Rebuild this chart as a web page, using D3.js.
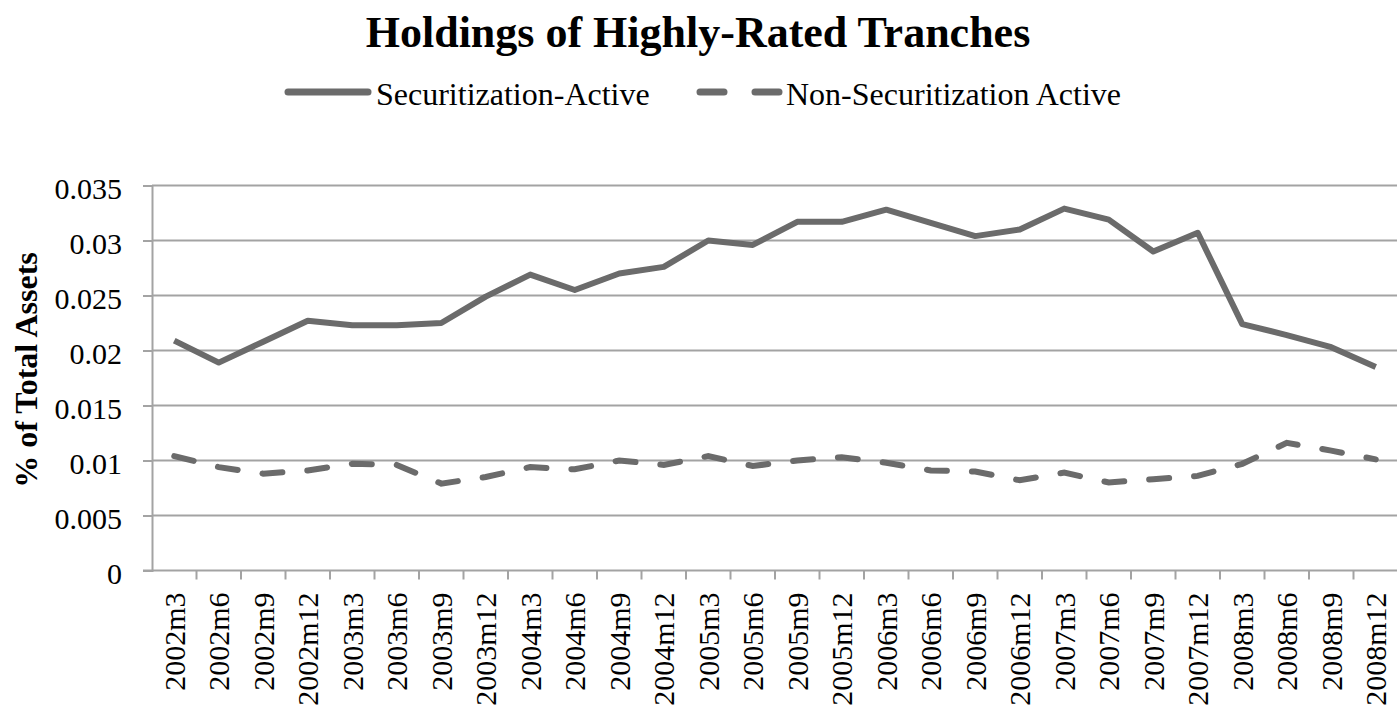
<!DOCTYPE html>
<html>
<head>
<meta charset="utf-8">
<script src="https://cdn.jsdelivr.net/npm/d3@7"></script>
<style>
  body { margin: 0; background: #fff; }
  text { font-family: "Liberation Serif", "Times New Roman", serif; }
</style>
</head>
<body>
<script>
// categories (quarters)
var periods = ["2002m3","2002m6","2002m9","2002m12","2003m3","2003m6","2003m9","2003m12",
               "2004m3","2004m6","2004m9","2004m12","2005m3","2005m6","2005m9","2005m12",
               "2006m3","2006m6","2006m9","2006m12","2007m3","2007m6","2007m9","2007m12",
               "2008m3","2008m6","2008m9","2008m12"];

var securActive = [0.0209, 0.0189, 0.0208, 0.0227, 0.0223, 0.0223, 0.0225, 0.0249,
                   0.0269, 0.0255, 0.0270, 0.0276, 0.0300, 0.0296, 0.0317, 0.0317,
                   0.0328, 0.0316, 0.0304, 0.0310, 0.0329, 0.0319, 0.0290, 0.0307,
                   0.0224, 0.0214, 0.0203, 0.0185];

var nonSecurActive = [0.0104, 0.0094, 0.0088, 0.0091, 0.0097, 0.0096, 0.0079, 0.0085,
                      0.0094, 0.0092, 0.0100, 0.0096, 0.0104, 0.0095, 0.0100, 0.0103,
                      0.0098, 0.0091, 0.0090, 0.0082, 0.0089, 0.0080, 0.0083, 0.0086,
                      0.0097, 0.0116, 0.0109, 0.0101];

var yTicks = [0, 0.005, 0.01, 0.015, 0.02, 0.025, 0.03, 0.035];
var yTickLabels = ["0", "0.005", "0.01", "0.015", "0.02", "0.025", "0.03", "0.035"];

var w = 1397, h = 710;
var plotLeft = 152, plotRight = 1398, plotTop = 185.5, plotBottom = 570.5;
var lineColor = "#6b6b6b", gridColor = "#a3a3a3";

var svg = d3.select("body").append("svg")
  .attr("width", w)
  .attr("height", h);

var x = d3.scaleBand().domain(periods).range([plotLeft, plotRight]);
var y = d3.scaleLinear().domain([0, 0.035]).range([plotBottom, plotTop]);

// gridlines
svg.append("g")
  .selectAll("line")
  .data(yTicks.slice(1))
  .enter()
  .append("line")
  .attr("x1", plotLeft)
  .attr("x2", w)
  .attr("y1", d => y(d))
  .attr("y2", d => y(d))
  .attr("stroke", gridColor)
  .attr("stroke-width", 2);

// y axis
var yAxis = svg.append("g")
  .attr("transform", "translate(" + plotLeft + ",0)")
  .call(d3.axisLeft(y).tickValues(yTicks).tickFormat((d, i) => yTickLabels[i]).tickSize(9).tickPadding(21));
yAxis.select(".domain").attr("stroke", gridColor).attr("stroke-width", 2);
yAxis.selectAll(".tick line").attr("stroke", gridColor).attr("stroke-width", 2);
yAxis.selectAll(".tick text")
  .attr("font-family", "Liberation Serif")
  .attr("font-size", "30px")
  .attr("fill", "#000")
  .attr("dy", "0.42em");

// x axis
var xAxis = svg.append("g")
  .attr("transform", "translate(0," + plotBottom + ")")
  .call(d3.axisBottom(x).tickSize(0).tickPadding(0));
xAxis.select(".domain").remove();
xAxis.selectAll(".tick text")
  .attr("font-family", "Liberation Serif")
  .attr("font-size", "30px")
  .attr("fill", "#000")
  .attr("text-anchor", "end")
  .attr("dy", "0.35em")
  .attr("transform", "translate(0,22) rotate(-90)");

svg.append("line")
  .attr("x1", plotLeft - 9).attr("x2", w)
  .attr("y1", plotBottom).attr("y2", plotBottom)
  .attr("stroke", gridColor).attr("stroke-width", 2);

svg.append("g")
  .selectAll("line")
  .data(periods)
  .enter()
  .append("line")
  .attr("x1", d => x(d) + x.bandwidth())
  .attr("x2", d => x(d) + x.bandwidth())
  .attr("y1", plotBottom)
  .attr("y2", plotBottom + 9)
  .attr("stroke", gridColor)
  .attr("stroke-width", 2);

// lines
var line = d3.line()
  .x((d, i) => x(periods[i]) + x.bandwidth() / 2)
  .y(d => y(d));

svg.append("path")
  .datum(securActive)
  .attr("d", line)
  .attr("fill", "none")
  .attr("stroke", lineColor)
  .attr("stroke-width", 6)
  .attr("stroke-linejoin", "round");

svg.append("path")
  .datum(nonSecurActive)
  .attr("d", line)
  .attr("fill", "none")
  .attr("stroke", lineColor)
  .attr("stroke-width", 6)
  .attr("stroke-linecap", "round")
  .attr("stroke-dasharray", "20,25");

// title
svg.append("text")
  .attr("x", 698)
  .attr("y", 47)
  .attr("text-anchor", "middle")
  .attr("font-size", "44px")
  .attr("font-weight", "bold")
  .text("Holdings of Highly-Rated Tranches");

// y axis title
svg.append("text")
  .attr("transform", "translate(37,370) rotate(-90)")
  .attr("text-anchor", "middle")
  .attr("font-size", "32px")
  .attr("font-weight", "bold")
  .text("% of Total Assets");

// legend
var legend = svg.append("g");
legend.append("line")
  .attr("x1", 288).attr("x2", 368).attr("y1", 92).attr("y2", 92)
  .attr("stroke", lineColor).attr("stroke-width", 7)
  .attr("stroke-linecap", "round");
legend.append("text")
  .attr("x", 376).attr("y", 105)
  .attr("font-size", "32px")
  .text("Securitization-Active");
legend.append("line")
  .attr("x1", 700).attr("x2", 780).attr("y1", 92).attr("y2", 92)
  .attr("stroke", lineColor).attr("stroke-width", 7)
  .attr("stroke-linecap", "round")
  .attr("stroke-dasharray", "24,31");
legend.append("text")
  .attr("x", 786).attr("y", 105)
  .attr("font-size", "32px")
  .text("Non-Securitization Active");
</script>
</body>
</html>
